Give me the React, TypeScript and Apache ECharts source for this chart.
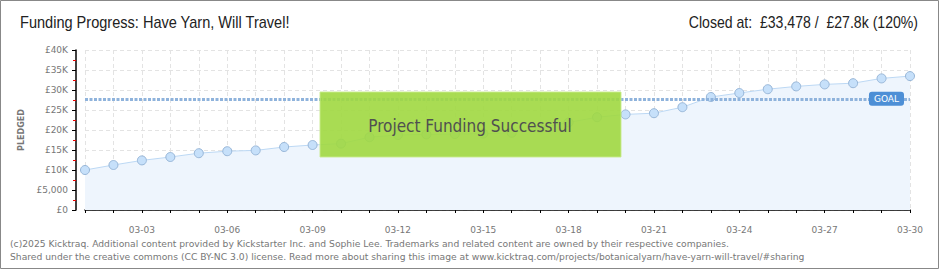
import React, { useEffect, useRef } from "react";
import * as echarts from "echarts";

const dates = [
  "03-01", "03-02", "03-03", "03-04", "03-05", "03-06", "03-07", "03-08", "03-09", "03-10",
  "03-11", "03-12", "03-13", "03-14", "03-15", "03-16", "03-17", "03-18", "03-19", "03-20",
  "03-21", "03-22", "03-23", "03-24", "03-25", "03-26", "03-27", "03-28", "03-29", "03-30",
];
const pledged = [
  10000, 11250, 12400, 13250, 14200, 14700, 14900, 15750, 16250, 16600,
  18200, 18750, 18900, 19000, 19100, 19300, 20500, 21900, 23200, 23900,
  24200, 25700, 28250, 29250, 30200, 30900, 31400, 31700, 32900, 33478,
];
const goal = 27800;
const titleText = "Funding Progress: Have Yarn, Will Travel!";
const statusText = "Closed at:  £33,478 /  £27.8k (120%)";
const bannerText = "Project Funding Successful";
const footer1 =
  "(c)2025 Kicktraq. Additional content provided by Kickstarter Inc. and Sophie Lee. Trademarks and related content are owned by their respective companies.";
const footer2 =
  "Shared under the creative commons (CC BY-NC 3.0) license. Read more about sharing this image at www.kicktraq.com/projects/botanicalyarn/have-yarn-will-travel/#sharing";

const yLabel = (v: number) => (v === 0 ? "£0" : v === 5000 ? "£5,000" : "£" + v / 1000 + "K");

export default function App() {
  const ref = useRef<HTMLDivElement>(null);
  useEffect(() => {
    if (!ref.current) return;
    const chart = echarts.init(ref.current, undefined, { renderer: "svg" });
    const head = "Liberation Sans";
    chart.setOption({
      animation: false,
      backgroundColor: "#fff",
      grid: { left: 85, right: 30, top: 50, bottom: 60 },
      xAxis: {
        type: "category",
        data: dates,
        boundaryGap: false,
        offset: 10,
        axisLine: { lineStyle: { color: "#000", width: 1.5 } },
        axisTick: { show: true, interval: 0, length: 3, lineStyle: { color: "#000" } },
        axisLabel: {
          interval: (i: number) => i % 3 === 2,
          color: "#777",
          fontSize: 9,
          fontFamily: "DejaVu Sans",
          margin: 5,
        },
        splitLine: { show: true, interval: 0, lineStyle: { color: "#e3e3e3", type: [4, 3] } },
      },
      yAxis: {
        type: "value",
        min: 0,
        max: 40000,
        interval: 5000,
        offset: 9,
        name: "PLEDGED",
        nameLocation: "middle",
        nameGap: 50,
        nameRotate: 90,
        nameTextStyle: { color: "#777", fontSize: 8, fontWeight: "bold", fontFamily: "DejaVu Sans" },
        axisLine: { show: true, lineStyle: { color: "#000", width: 1.5 } },
        axisTick: { show: true, length: 4, lineStyle: { color: "#000" } },
        minorTick: { show: true, splitNumber: 2, length: 3, lineStyle: { color: "#e00" } },
        axisLabel: { formatter: yLabel, color: "#777", fontSize: 9, fontFamily: "DejaVu Sans", margin: 8 },
        splitLine: { show: true, lineStyle: { color: "#e3e3e3", type: [4, 3] } },
      },
      series: [
        {
          type: "line",
          data: pledged,
          symbol: "circle",
          symbolSize: 9,
          itemStyle: { color: "#c6e0fa", borderColor: "#97b6d8", borderWidth: 1 },
          lineStyle: { color: "#bcd8f4", width: 1 },
          areaStyle: { color: "#eef5fd", opacity: 1 },
          z: 3,
          markLine: {
            silent: true,
            symbol: "none",
            lineStyle: { color: "#8fb3dc", type: [3, 1.5], width: 3 },
            label: {
              show: true,
              position: "insideEnd",
              distance: 6,
              formatter: "GOAL",
              color: "#fff",
              backgroundColor: "#4d8fd6",
              borderRadius: 3,
              padding: [3, 5, 2, 5],
              fontSize: 9,
              fontFamily: "DejaVu Sans",
            },
            data: [{ yAxis: goal }],
          },
        },
      ],
      graphic: [
        {
          type: "rect",
          shape: { x: 0.5, y: 0.5, width: 938, height: 268 },
          style: { fill: "none", stroke: "#888", lineWidth: 1 },
          silent: true,
          z: 100,
        },
        {
          type: "text",
          x: 20,
          y: 22,
          scaleX: 0.91,
          style: { text: titleText, fill: "#222", fontSize: 16, fontFamily: head, verticalAlign: "middle" },
          silent: true,
        },
        {
          type: "text",
          x: 918,
          y: 22,
          scaleX: 0.88,
          style: {
            text: statusText,
            fill: "#222",
            fontSize: 16,
            fontFamily: head,
            align: "right",
            verticalAlign: "middle",
          },
          silent: true,
        },
        {
          type: "rect",
          shape: { x: 320, y: 92, width: 301, height: 65 },
          style: { fill: "rgba(160,216,64,0.9)", stroke: "rgba(200,235,140,0.9)", lineWidth: 1 },
          silent: true,
          z: 50,
        },
        {
          type: "text",
          x: 470,
          y: 126,
          style: {
            text: bannerText,
            fill: "#505050",
            fontSize: 17,
            fontFamily: "DejaVu Sans Condensed, DejaVu Sans",
            align: "center",
            verticalAlign: "middle",
            textShadowColor: "rgba(255,255,255,0.9)",
            textShadowOffsetX: -1,
            textShadowOffsetY: 1,
            textShadowBlur: 0,
          },
          silent: true,
          z: 51,
        },
        {
          type: "text",
          x: 10,
          y: 243,
          style: { text: footer1, fill: "#777", fontSize: 9.2, fontFamily: "DejaVu Sans", verticalAlign: "middle" },
          silent: true,
        },
        {
          type: "text",
          x: 10,
          y: 256,
          style: { text: footer2, fill: "#777", fontSize: 9.2, fontFamily: "DejaVu Sans", verticalAlign: "middle" },
          silent: true,
        },
      ],
    });
    return () => chart.dispose();
  }, []);
  return (
    <div
      ref={ref}
      style={{ position: "absolute", left: 0, top: 0, width: 940, height: 270, background: "#fff" }}
    />
  );
}
